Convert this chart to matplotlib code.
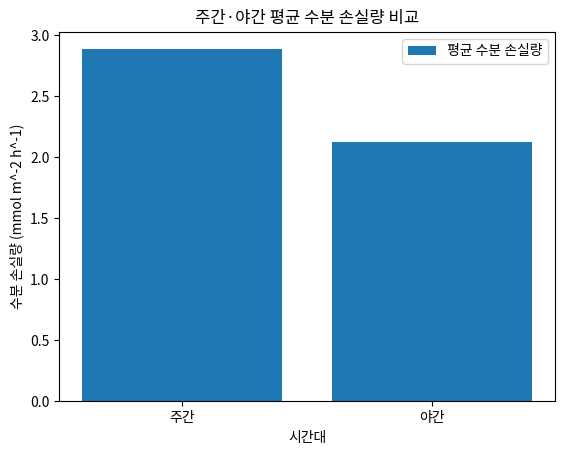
import matplotlib
matplotlib.use("Agg")
import matplotlib.pyplot as plt

plt.rcParams['font.family'] = ['Noto Sans CJK KR', 'DejaVu Sans']
plt.rcParams['axes.unicode_minus'] = False

categories = ["주간", "야간"]
values = [2.885, 2.122]

fig, ax = plt.subplots(figsize=(5.65, 4.54), dpi=100)
ax.bar(categories, values, color="#1f77b4", label="평균 수분 손실량")
ax.set_title("주간·야간 평균 수분 손실량 비교")
ax.set_xlabel("시간대")
ax.set_ylabel("수분 손실량 (mmol m^-2 h^-1)")
ax.legend(loc="upper right")
fig.subplots_adjust(left=0.105, right=0.982, top=0.93, bottom=0.116)
fig.savefig("out.png", dpi=100)
